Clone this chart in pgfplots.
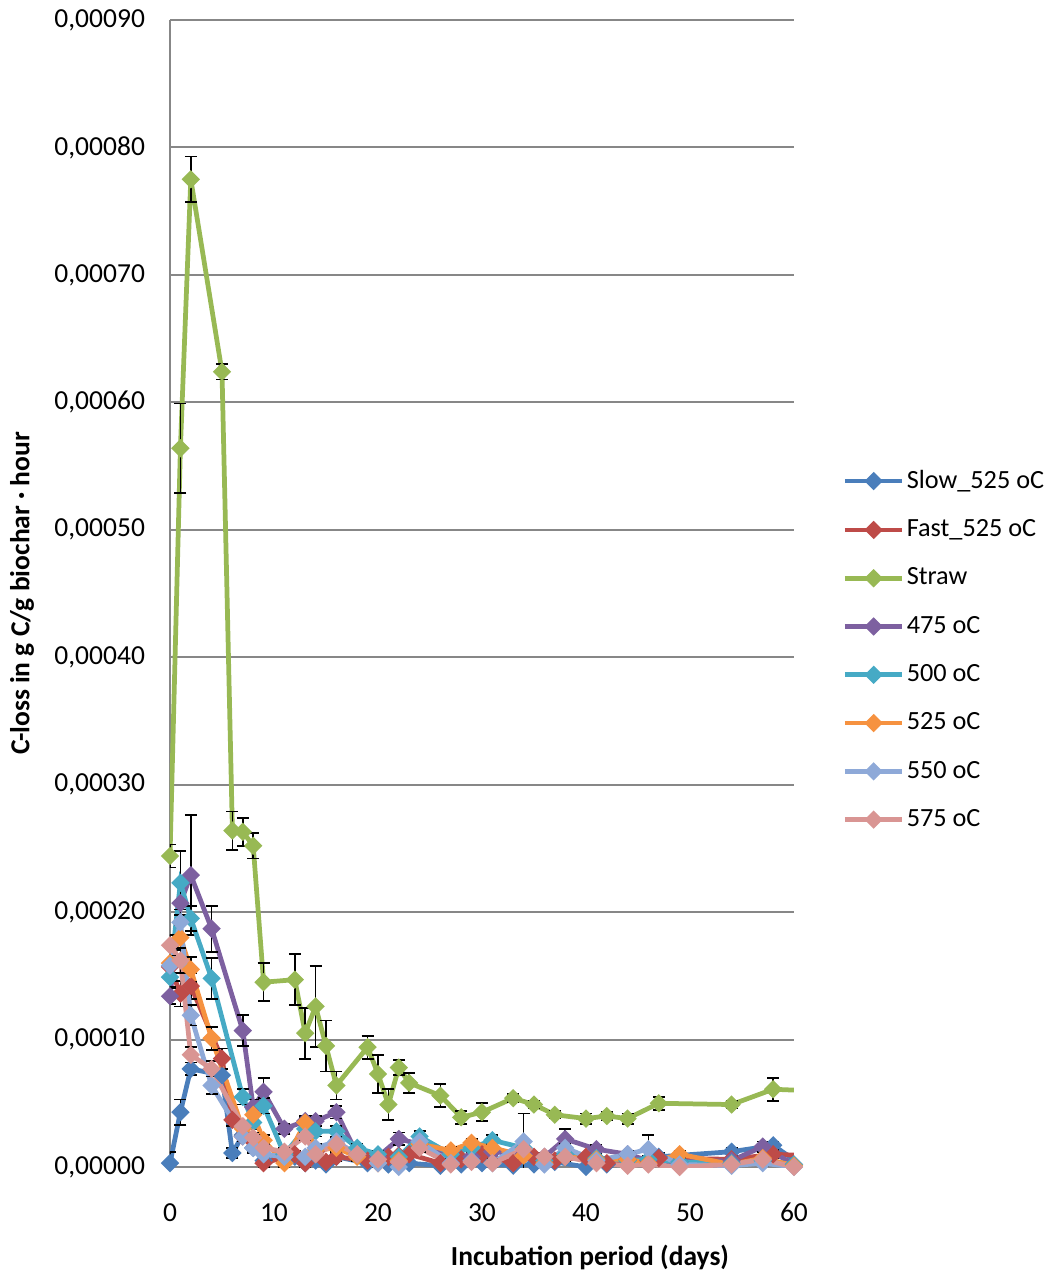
\documentclass[border=0pt]{standalone}
\usepackage{pgfplots}
\pgfplotsset{compat=1.18}
\usepackage{pgfplotstable}
\usepackage{fontspec}
\setmainfont{Carlito}
\definecolor{cslow}{HTML}{4A7EBB}
\definecolor{cfast}{HTML}{BE4B48}
\definecolor{cstraw}{HTML}{98B954}
\definecolor{cp475}{HTML}{7D60A0}
\definecolor{cp500}{HTML}{46AAC5}
\definecolor{cp525}{HTML}{F69240}
\definecolor{cp550}{HTML}{8EA9D8}
\definecolor{cp575}{HTML}{D99593}
\definecolor{gridgray}{HTML}{878787}

\pgfplotstableread{
x y e
0 0.3e-5 0.9e-5
1 4.3e-5 1.0e-5
2 7.7e-5 0.5e-5
5 7.2e-5 0.5e-5
6 1.1e-5 0.4e-5
7 2.5e-5 0.5e-5
8 1.5e-5 0.4e-5
9 0.5e-5 0.3e-5
12 0.8e-5 0.3e-5
13 0.3e-5 0.3e-5
14 0.5e-5 0.3e-5
15 0.2e-5 0.2e-5
16 0.8e-5 0.3e-5
19 0.3e-5 0.2e-5
20 0.5e-5 0.2e-5
21 0.2e-5 0.2e-5
22 0.6e-5 0.2e-5
23 0.3e-5 0.2e-5
26 0.1e-5 0.2e-5
28 0.2e-5 0.2e-5
30 0.3e-5 0.2e-5
33 0.1e-5 0.2e-5
35 0.2e-5 0.2e-5
37 0.4e-5 0.2e-5
40 0.0e-5 0.2e-5
42 0.2e-5 0.2e-5
44 0.5e-5 0.2e-5
47 0.8e-5 0.3e-5
54 1.2e-5 0.3e-5
58 1.7e-5 0.3e-5
61 0.0e-5 0.2e-5
}\slow

\pgfplotstableread{
x y e
0 15.7e-5 1.0e-5
1 13.6e-5 1.0e-5
2 14.2e-5 1.0e-5
5 8.5e-5 0.8e-5
6 3.7e-5 0.5e-5
7 2.4e-5 0.4e-5
8 2.0e-5 0.4e-5
9 0.3e-5 0.3e-5
12 1.0e-5 0.3e-5
13 0.3e-5 0.3e-5
14 1.2e-5 0.3e-5
15 0.4e-5 0.2e-5
16 0.8e-5 0.3e-5
19 0.5e-5 0.2e-5
20 0.3e-5 0.2e-5
21 0.8e-5 0.2e-5
22 0.9e-5 0.2e-5
23 1.0e-5 0.2e-5
26 0.3e-5 0.2e-5
28 0.6e-5 0.2e-5
30 1.0e-5 0.2e-5
33 0.3e-5 0.2e-5
35 0.8e-5 0.2e-5
37 0.5e-5 0.2e-5
40 0.8e-5 0.2e-5
42 0.3e-5 0.2e-5
44 0.6e-5 0.2e-5
47 0.7e-5 0.2e-5
54 0.6e-5 0.2e-5
58 1.0e-5 0.3e-5
61 0.9e-5 0.3e-5
}\fast

\pgfplotstableread{
x y e
0 24.4e-5 0.9e-5
1 56.4e-5 3.5e-5
2 77.5e-5 1.8e-5
5 62.4e-5 0.6e-5
6 26.4e-5 1.5e-5
7 26.3e-5 1.1e-5
8 25.2e-5 1.0e-5
9 14.5e-5 1.5e-5
12 14.7e-5 2.0e-5
13 10.5e-5 2.0e-5
14 12.6e-5 3.2e-5
15 9.5e-5 2.0e-5
16 6.4e-5 1.1e-5
19 9.4e-5 0.9e-5
20 7.3e-5 1.5e-5
21 4.9e-5 1.2e-5
22 7.8e-5 0.6e-5
23 6.6e-5 0.8e-5
26 5.6e-5 0.9e-5
28 3.9e-5 0.5e-5
30 4.3e-5 0.7e-5
33 5.4e-5 0.3e-5
35 4.9e-5 0.3e-5
37 4.1e-5 0.3e-5
40 3.8e-5 0.4e-5
42 4.0e-5 0.3e-5
44 3.8e-5 0.4e-5
47 5.0e-5 0.5e-5
54 4.9e-5 0.3e-5
58 6.1e-5 0.9e-5
61 6.0e-5 0.75e-5
}\straw

\pgfplotstableread{
x y e
0 13.4e-5 0.6e-5
1 20.7e-5 1.5e-5
2 22.9e-5 4.7e-5
4 18.7e-5 1.8e-5
7 10.7e-5 1.2e-5
8 4.7e-5 0.6e-5
9 5.9e-5 1.1e-5
11 3.0e-5 0.4e-5
13 3.6e-5 0.4e-5
14 3.6e-5 0.4e-5
16 4.3e-5 0.5e-5
18 1.0e-5 0.3e-5
20 0.8e-5 0.3e-5
22 2.2e-5 0.5e-5
24 1.8e-5 0.4e-5
27 1.0e-5 0.3e-5
29 0.8e-5 0.3e-5
31 1.2e-5 0.3e-5
34 1.0e-5 0.3e-5
36 0.8e-5 0.3e-5
38 2.2e-5 0.8e-5
41 1.4e-5 0.3e-5
44 1.0e-5 0.3e-5
46 0.5e-5 0.3e-5
49 0.4e-5 0.3e-5
54 0.5e-5 0.3e-5
57 1.6e-5 0.4e-5
60 0.2e-5 0.2e-5
}\pA

\pgfplotstableread{
x y e
0 14.9e-5 0.8e-5
1 22.3e-5 2.5e-5
2 19.5e-5 1.0e-5
4 14.8e-5 1.6e-5
7 5.5e-5 0.6e-5
8 3.5e-5 0.5e-5
9 4.8e-5 0.6e-5
11 1.0e-5 0.3e-5
13 3.0e-5 0.4e-5
14 2.8e-5 0.4e-5
16 2.8e-5 0.4e-5
18 1.5e-5 0.3e-5
20 1.0e-5 0.3e-5
22 0.8e-5 0.3e-5
24 2.4e-5 0.4e-5
27 1.0e-5 0.3e-5
29 1.5e-5 0.3e-5
31 2.1e-5 0.4e-5
34 1.5e-5 0.3e-5
36 0.5e-5 0.3e-5
38 1.0e-5 0.3e-5
41 0.7e-5 0.3e-5
44 0.5e-5 0.3e-5
46 0.6e-5 0.3e-5
49 0.4e-5 0.3e-5
54 0.3e-5 0.2e-5
57 0.5e-5 0.2e-5
60 0.2e-5 0.2e-5
}\pB

\pgfplotstableread{
x y e
0 16.0e-5 0.8e-5
1 18.0e-5 1.0e-5
2 15.5e-5 1.0e-5
4 10.1e-5 0.9e-5
7 3.0e-5 0.5e-5
8 4.1e-5 0.5e-5
9 2.1e-5 0.4e-5
11 0.3e-5 0.3e-5
13 3.5e-5 0.4e-5
14 1.3e-5 0.3e-5
16 1.5e-5 0.3e-5
18 0.8e-5 0.3e-5
20 0.3e-5 0.3e-5
22 0.5e-5 0.3e-5
24 1.8e-5 0.4e-5
27 1.3e-5 0.3e-5
29 1.9e-5 0.3e-5
31 1.5e-5 0.3e-5
34 0.9e-5 0.3e-5
36 0.3e-5 0.3e-5
38 0.8e-5 0.3e-5
41 0.6e-5 0.3e-5
44 0.6e-5 0.3e-5
46 0.3e-5 0.3e-5
49 1.0e-5 0.3e-5
54 0.2e-5 0.2e-5
57 0.7e-5 0.2e-5
60 0.1e-5 0.2e-5
}\pC

\pgfplotstableread{
x y e
0 15.8e-5 0.8e-5
1 19.2e-5 1.0e-5
2 11.9e-5 0.8e-5
4 6.4e-5 0.7e-5
7 2.4e-5 0.4e-5
8 1.5e-5 0.3e-5
9 1.0e-5 0.3e-5
11 0.8e-5 0.3e-5
13 0.8e-5 0.3e-5
14 1.5e-5 0.3e-5
16 2.0e-5 0.3e-5
18 1.0e-5 0.3e-5
20 0.3e-5 0.3e-5
22 0.0e-5 0.2e-5
24 2.0e-5 0.4e-5
27 0.3e-5 0.3e-5
29 0.5e-5 0.3e-5
31 0.3e-5 0.3e-5
34 2.0e-5 2.2e-5
36 0.2e-5 0.2e-5
38 1.5e-5 0.3e-5
41 0.5e-5 0.3e-5
44 1.0e-5 0.3e-5
46 1.4e-5 1.1e-5
49 0.2e-5 0.2e-5
54 0.1e-5 0.2e-5
57 0.3e-5 0.2e-5
60 0.0e-5 0.2e-5
}\pD

\pgfplotstableread{
x y e
0 17.4e-5 0.8e-5
1 16.2e-5 1.0e-5
2 8.8e-5 0.6e-5
4 7.7e-5 0.6e-5
7 3.2e-5 0.4e-5
8 2.3e-5 0.4e-5
9 1.5e-5 0.3e-5
11 1.2e-5 0.3e-5
13 2.4e-5 0.3e-5
14 1.0e-5 0.3e-5
16 1.8e-5 0.3e-5
18 1.0e-5 0.3e-5
20 0.6e-5 0.3e-5
22 0.4e-5 0.2e-5
24 1.5e-5 0.3e-5
27 0.2e-5 0.2e-5
29 0.4e-5 0.2e-5
31 0.3e-5 0.2e-5
34 1.4e-5 0.3e-5
36 0.8e-5 0.3e-5
38 0.8e-5 0.3e-5
41 0.3e-5 0.2e-5
44 0.1e-5 0.2e-5
46 0.2e-5 0.2e-5
49 0.0e-5 0.2e-5
54 0.2e-5 0.2e-5
57 0.6e-5 0.2e-5
60 0.0e-5 0.2e-5
}\pE

\pgfplotsset{
  ser/.style={color=#1, line width=1.9pt, mark=square*, mark size=2.3pt,
    mark options={rotate=45, solid, fill=#1, line width=0.6pt},
    error bars/.cd, y dir=both, y explicit,
    error bar style={black, line width=0.7pt},
    error mark options={black, line width=0.7pt, mark size=2.4pt, rotate=90}},
}

\begin{document}
\begin{tikzpicture}[x=1pt,y=1pt]
\useasboundingbox (0,0) rectangle (420.4,509.6);
\begin{axis}[
  at={(68pt,42.8pt)}, anchor=south west,
  scale only axis, width=249.6pt, height=458.8pt,
  font=\fontsize{11}{13}\selectfont,
  /pgf/number format/assume math mode=true,
  xmin=0, xmax=60, ymin=0, ymax=0.0009,
  xtick={0,10,20,30,40,50,60},
  xticklabels={0,10,20,30,40,50,60},
  ytick={0,0.0001,0.0002,0.0003,0.0004,0.0005,0.0006,0.0007,0.0008,0.0009},
  yticklabels={{0,00000},{0,00010},{0,00020},{0,00030},{0,00040},{0,00050},{0,00060},{0,00070},{0,00080},{0,00090}},
  scaled y ticks=false,
  axis lines*=left,
  axis line style={draw=gridgray, line width=0.8pt, -},
  major tick length=0pt,
  ymajorgrids,
  major grid style={draw=gridgray, line width=0.8pt},
  yticklabel style={xshift=-6.5pt},
  xticklabel style={yshift=-11pt},
  xlabel={\bfseries Incubation period (days)},
  ylabel={\bfseries C-loss in g C/g biochar · hour},
  xlabel style={at={(axis description cs:0.673,-0.0785)}, anchor=center},
  ylabel style={at={(axis description cs:-0.237,0.5)}, anchor=center},
  legend style={at={(axis description cs:1.077,0.4507)}, anchor=west,
    draw=none, fill=none, font=\fontsize{10.5}{12.5}\selectfont,
    row sep=9pt, column sep=0pt, inner sep=0pt,
    nodes={inner xsep=0.8pt, inner ysep=1pt}},
  legend cell align=left,
  legend image code/.code={\draw[#1, mark repeat=2, mark phase=2] plot coordinates {(0pt,0pt) (11.5pt,0pt) (23pt,0pt)};},
]
\addplot[ser=cslow] table[x=x, y=y, y error=e] {\slow};
\addlegendentry{Slow\_525 oC}
\addplot[ser=cfast] table[x=x, y=y, y error=e] {\fast};
\addlegendentry{Fast\_525 oC}
\addplot[ser=cstraw] table[x=x, y=y, y error=e] {\straw};
\addlegendentry{Straw}
\addplot[ser=cp475] table[x=x, y=y, y error=e] {\pA};
\addlegendentry{475 oC}
\addplot[ser=cp500] table[x=x, y=y, y error=e] {\pB};
\addlegendentry{500 oC}
\addplot[ser=cp525] table[x=x, y=y, y error=e] {\pC};
\addlegendentry{525 oC}
\addplot[ser=cp550] table[x=x, y=y, y error=e] {\pD};
\addlegendentry{550 oC}
\addplot[ser=cp575] table[x=x, y=y, y error=e] {\pE};
\addlegendentry{575 oC}
\end{axis}
\end{tikzpicture}
\end{document}
